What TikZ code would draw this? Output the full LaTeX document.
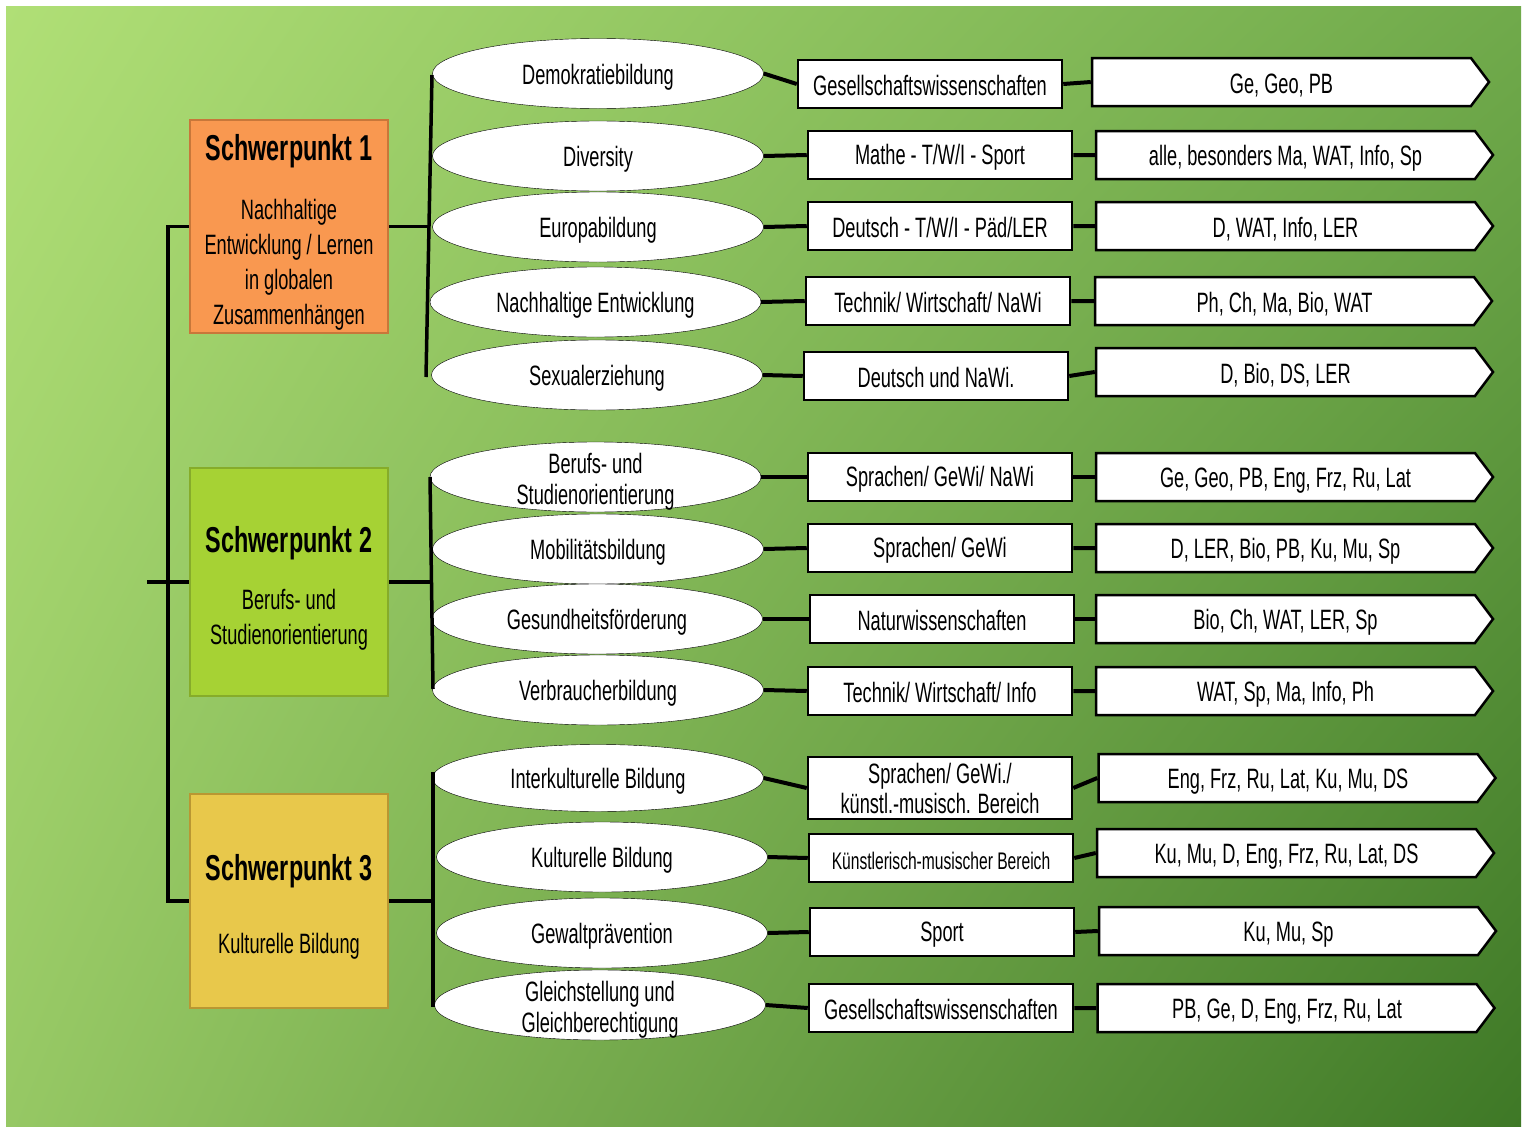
\documentclass[tikz,border=0pt]{standalone}
\usepackage{fontspec}
\setmainfont{Liberation Sans}[FakeStretch=0.65]
\usetikzlibrary{positioning,shapes.geometric,shapes.symbols,shadings}

\definecolor{bgtl}{HTML}{B0DF76}
\definecolor{bgtr}{HTML}{70AA4B}
\definecolor{bgbl}{HTML}{96C864}
\definecolor{bgbr}{HTML}{3E7826}
\definecolor{spkorange}{HTML}{F99850}
\definecolor{spkorangerand}{HTML}{C8773A}
\definecolor{spkgruen}{HTML}{A6D234}
\definecolor{spkgruenrand}{HTML}{86AC2A}
\definecolor{spkgelb}{HTML}{E8C84B}
\definecolor{spkgelbrand}{HTML}{B99732}

\begin{document}
\begin{tikzpicture}[x=1pt,y=-1pt,font=\fontsize{28}{33}\selectfont]
  \tikzstyle{spkt}=[draw,line width=2pt,align=center,minimum width=198pt,inner sep=0pt,font=\fontsize{28}{35}\selectfont]
  \tikzstyle{thema}=[draw,fill=white,ellipse,minimum width=331pt,minimum height=70pt,inner sep=0pt,align=center,font=\fontsize{28}{31}\selectfont,execute at begin node=\rule{0pt}{27pt}]
  \tikzstyle{zweizeilig}=[inner ysep=-16pt]
  \tikzstyle{fach}=[draw,fill=white,line width=2.5pt,minimum width=264pt,minimum height=48pt,inner sep=0pt,align=center,font=\fontsize{28}{30}\selectfont,execute at begin node=\rule{0pt}{24pt}]
  \tikzstyle{kurs}=[draw,fill=white,line width=2.5pt,signal,signal to=east,signal pointer angle=106,minimum width=397pt,minimum height=48pt,inner sep=0pt,execute at begin node=\rule{0pt}{27pt}]
  \tikzstyle{ast}=[line width=4pt]
  \tikzstyle{stamm}=[line width=3.5pt]
  \newcommand{\titel}[1]{{\fontsize{36}{40}\selectfont\bfseries\rule{0pt}{38pt}#1}}

  % Hintergrund
  \useasboundingbox (0,0) rectangle (1527,1127);
  \fill[white] (0,0) rectangle (1527,1127);
  \shade[upper left=bgtl,upper right=bgtr,lower left=bgbl,lower right=bgbr] (6,6) rectangle (1521,1126);

  % Schwerpunkte
  \node[spkt,fill=spkorange,draw=spkorangerand,minimum height=213pt] (sp1) at (289,226.5)
    {\titel{Schwerpunkt 1}\\[24pt]Nachhaltige\\Entwicklung / Lernen\\in globalen\\Zusammenhängen};
  \node[spkt,fill=spkgruen,draw=spkgruenrand,minimum height=228pt] (sp2) at (289,582)
    {\titel{Schwerpunkt 2}\\[22pt]Berufs- und\\Studienorientierung};
  \node[spkt,fill=spkgelb,draw=spkgelbrand,minimum height=214pt] (sp3) at (289,901)
    {\titel{Schwerpunkt 3}\\[38pt]Kulturelle Bildung};

  % Themen
  \node[thema] (t1) at (598,73.5) {Demokratiebildung};
  \node[thema] (t2) at (598,156) {Diversity};
  \node[thema] (t3) at (598,227) {Europabildung};
  \node[thema] (t4) at (595.5,302) {Nachhaltige Entwicklung};
  \node[thema] (t5) at (597,375) {Sexualerziehung};
  \node[thema,zweizeilig] (t6) at (595.5,477) {\rule{0pt}{30pt}Berufs- und\\Studienorientierung};
  \node[thema] (t7) at (598,549) {Mobilitätsbildung};
  \node[thema] (t8) at (597,619) {Gesundheitsförderung};
  \node[thema] (t9) at (598,690) {Verbraucherbildung};
  \node[thema,minimum height=67pt] (t10) at (598,778) {Interkulturelle Bildung};
  \node[thema] (t11) at (602,857) {Kulturelle Bildung};
  \node[thema] (t12) at (602,933) {Gewaltprävention};
  \node[thema,zweizeilig] (t13) at (600,1005) {\rule{0pt}{30pt}Gleichstellung und\\Gleichberechtigung};

  % Fachbereiche
  \node[fach] (f1) at (930,84) {Gesellschaftswissenschaften};
  \node[fach] (f2) at (940,155) {Mathe - T/W/I - Sport};
  \node[fach] (f3) at (940,226) {Deutsch - T/W/I - Päd/LER};
  \node[fach] (f4) at (938,301) {Technik/ Wirtschaft/ NaWi};
  \node[fach] (f5) at (936,376) {Deutsch und NaWi.};
  \node[fach] (f6) at (940,477) {Sprachen/ GeWi/ NaWi};
  \node[fach] (f7) at (940,548) {Sprachen/ GeWi};
  \node[fach] (f8) at (942,619) {Naturwissenschaften};
  \node[fach] (f9) at (940,691) {Technik/ Wirtschaft/ Info};
  \node[fach,minimum height=62pt] (f10) at (940,788) {Sprachen/ GeWi./\\künstl.-musisch. Bereich};
  \node[fach,font=\fontsize{24}{28}\selectfont] (f11) at (941,858) {Künstlerisch-musischer Bereich};
  \node[fach] (f12) at (942,932) {Sport};
  \node[fach] (f13) at (941,1008) {Gesellschaftswissenschaften};

  % Fächer
  \node[kurs] (k1) at (1281.5,82) {Ge, Geo, PB};
  \node[kurs] (k2) at (1285.5,155) {alle, besonders Ma, WAT, Info, Sp};
  \node[kurs] (k3) at (1285.5,226) {D, WAT, Info, LER};
  \node[kurs] (k4) at (1284.5,301) {Ph, Ch, Ma, Bio, WAT};
  \node[kurs] (k5) at (1285.5,372) {D, Bio, DS, LER};
  \node[kurs] (k6) at (1285.5,477) {Ge, Geo, PB, Eng, Frz, Ru, Lat};
  \node[kurs] (k7) at (1285.5,548) {D, LER, Bio, PB, Ku, Mu, Sp};
  \node[kurs] (k8) at (1285.5,619) {Bio, Ch, WAT, LER, Sp};
  \node[kurs] (k9) at (1285.5,691) {WAT, Sp, Ma, Info, Ph};
  \node[kurs] (k10) at (1288,778) {Eng, Frz, Ru, Lat, Ku, Mu, DS};
  \node[kurs] (k11) at (1286.5,853) {Ku, Mu, D, Eng, Frz, Ru, Lat, DS};
  \node[kurs] (k12) at (1288.5,931) {Ku, Mu, Sp};
  \node[kurs] (k13) at (1287,1008) {PB, Ge, D, Eng, Frz, Ru, Lat};

  % Stamm links
  \coordinate (stamm) at (168,582);
  \coordinate (wurzel) at (147,582);
  \draw[stamm] (sp1.west) -| (stamm) |- (sp3.west);
  \draw[stamm] (sp2.west) -- (wurzel);

  % Verzweigungen
  \coordinate (g1o) at (432,75);
  \coordinate (g1u) at (426,377);
  \coordinate (g1m) at (430,226.5);
  \coordinate (g2o) at (430,477);
  \coordinate (g2u) at (433,689);
  \coordinate (g3o) at (433,772);
  \coordinate (g3u) at (433,1007);
  \draw[stamm] (g1o) -- (g1u);
  \draw[stamm] (g2o) -- (g2u);
  \draw[stamm] (g3o) -- (g3u);
  \draw[stamm] (sp1.east) -- (g1m);
  \draw[stamm] (sp2.east) -- (sp2.east -| g2o);
  \draw[stamm] (sp3.east) -- (sp3.east -| g3o);

  % Verbindungen
  \draw[ast] (t1.east) -- (f1.west) (f1.east) -- (k1.west);
  \draw[ast] (t2.east) -- (f2.west) (f2.east) -- (k2.west);
  \draw[ast] (t3.east) -- (f3.west) (f3.east) -- (k3.west);
  \draw[ast] (t4.east) -- (f4.west) (f4.east) -- (k4.west);
  \draw[ast] (t5.east) -- (f5.west) (f5.east) -- (k5.west);
  \draw[ast] (t6.east) -- (f6.west) (f6.east) -- (k6.west);
  \draw[ast] (t7.east) -- (f7.west) (f7.east) -- (k7.west);
  \draw[ast] (t8.east) -- (f8.west) (f8.east) -- (k8.west);
  \draw[ast] (t9.east) -- (f9.west) (f9.east) -- (k9.west);
  \draw[ast] (t10.east) -- (f10.west) (f10.east) -- (k10.west);
  \draw[ast] (t11.east) -- (f11.west) (f11.east) -- (k11.west);
  \draw[ast] (t12.east) -- (f12.west) (f12.east) -- (k12.west);
  \draw[ast] (t13.east) -- (f13.west) (f13.east) -- (k13.west);
\end{tikzpicture}
\end{document}
